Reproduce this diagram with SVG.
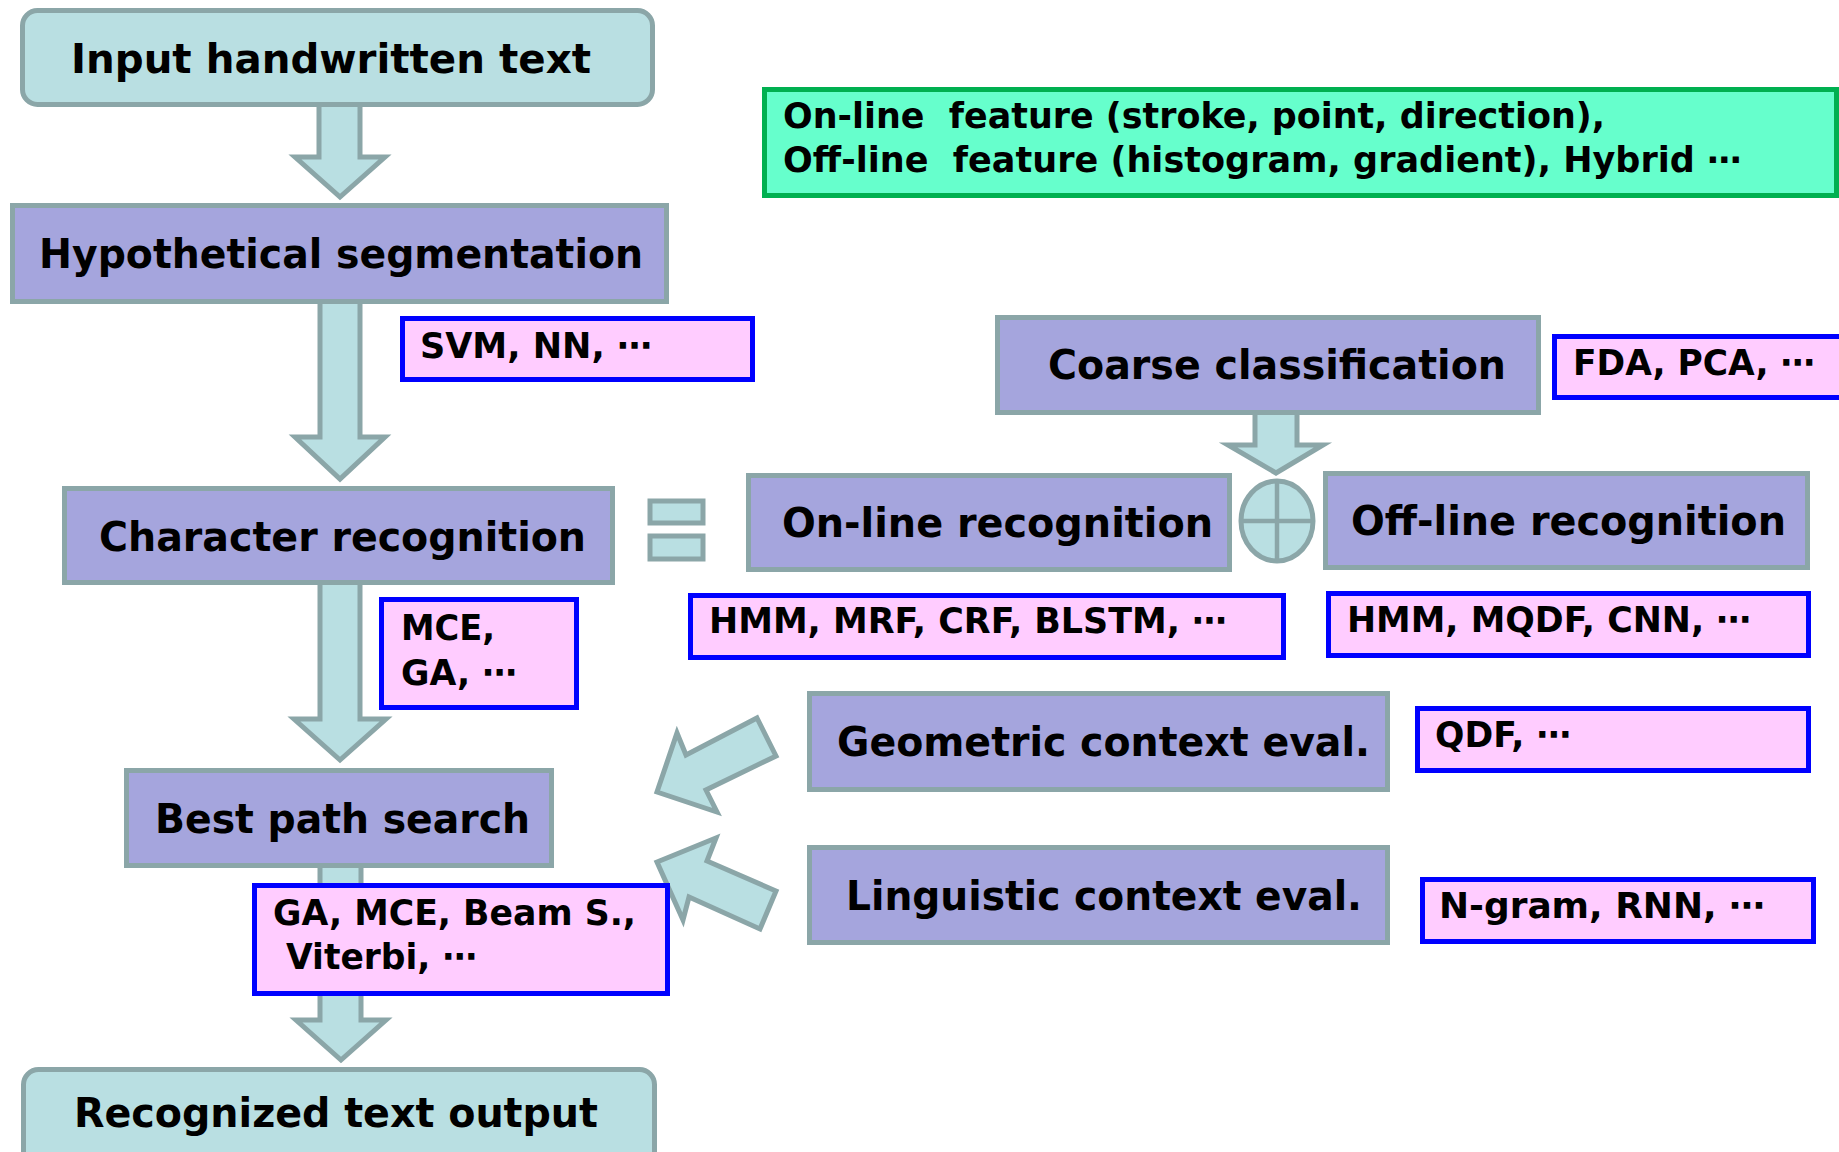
<svg xmlns="http://www.w3.org/2000/svg" width="1839" height="1152" viewBox="0 0 1839 1152">
<style>
.cy{fill:#b9dfe2;stroke:#8ba6a8;stroke-width:5}
.pu{fill:#a5a5dd;stroke:#8ba6a8;stroke-width:5}
.pk{fill:#ffccff;stroke:#0000ff;stroke-width:5}
.gr{fill:#66ffcc;stroke:#00b050;stroke-width:5}
.ar{fill:#b9dfe2;stroke:#8ba6a8;stroke-width:5;stroke-linejoin:miter}
text{font-family:"DejaVu Sans","Verdana",sans-serif;font-weight:bold;fill:#000}
.t1{font-size:40px}
.t2{font-size:36px}
.t3{font-size:35px}
</style>
<rect width="1839" height="1152" fill="#fff"/>
<g id="connectors">
<polygon class="ar" points="319,100 360,100 360,157 385,157 340,197 295,157 319,157"/>
<polygon class="ar" points="320,298 360,298 360,437 385,437 340,479 295,437 320,437"/>
<polygon class="ar" points="320,580 360,580 360,719 386,719 340,760 294,719 320,719"/>
<polygon class="ar" points="320,862 361,862 361,1020 386,1020 341,1060 296,1020 320,1020"/>
<polygon class="ar" points="1255,410 1297,410 1297,445 1323,445 1276,473 1228,445 1255,445"/>
<polygon class="ar" points="757,718 776,756 706,790 717,812 657,792 677,733 686,755"/>
<polygon class="ar" points="716,838 707,861 776,891 760,929 689,897 683,920 657,862"/>
<g id="equals">
<rect class="cy" x="650" y="501" width="53" height="22" stroke-width="4"/>
<rect class="cy" x="650" y="536" width="53" height="23" stroke-width="4"/>
</g>
<g id="oplus">
<ellipse class="cy" cx="1277" cy="521" rx="36" ry="40" stroke-width="4.5"/>
<line x1="1277" y1="481" x2="1277" y2="561" stroke="#8ba6a8" stroke-width="4.5"/>
<line x1="1241" y1="521" x2="1313" y2="521" stroke="#8ba6a8" stroke-width="4.5"/>
</g>
</g>
<g id="input">
<rect class="cy" x="22.5" y="10.5" width="630" height="94" rx="15"/>
<text class="t1" x="71" y="73" textLength="520" lengthAdjust="spacingAndGlyphs">Input handwritten text</text>
</g>
<g id="hypseg">
<rect class="pu" x="12.5" y="205.5" width="654" height="96"/>
<text class="t1" x="39" y="268" textLength="604" lengthAdjust="spacingAndGlyphs">Hypothetical segmentation</text>
</g>
<g id="svm">
<rect class="pk" x="402.5" y="318.5" width="350" height="61"/>
<text class="t2" x="420" y="358" textLength="232" lengthAdjust="spacingAndGlyphs">SVM, NN, ⋯</text>
</g>
<g id="charrec">
<rect class="pu" x="64.5" y="488.5" width="548" height="94"/>
<text class="t1" x="99" y="551" textLength="487" lengthAdjust="spacingAndGlyphs">Character recognition</text>
</g>
<g id="mce">
<rect class="pk" x="381.5" y="599.5" width="195" height="108"/>
<text class="t2" x="401" y="640" textLength="94" lengthAdjust="spacingAndGlyphs">MCE,</text>
<text class="t2" x="401" y="685" textLength="116" lengthAdjust="spacingAndGlyphs">GA, ⋯</text>
</g>
<g id="bestpath">
<rect class="pu" x="126.5" y="770.5" width="425" height="95"/>
<text class="t1" x="155" y="833" textLength="375" lengthAdjust="spacingAndGlyphs">Best path search</text>
</g>
<g id="gamce">
<rect class="pk" x="254.5" y="885.5" width="413" height="108"/>
<text class="t2" x="273" y="925" textLength="363" lengthAdjust="spacingAndGlyphs">GA, MCE, Beam S.,</text>
<text class="t2" x="286" y="969" textLength="191" lengthAdjust="spacingAndGlyphs">Viterbi, ⋯</text>
</g>
<g id="output">
<rect class="cy" x="23.5" y="1069.5" width="631" height="120" rx="15"/>
<text class="t1" x="74" y="1127" textLength="524" lengthAdjust="spacingAndGlyphs">Recognized text output</text>
</g>
<g id="features">
<rect class="gr" x="764.5" y="89.5" width="1072" height="106"/>
<text class="t3" x="783" y="128" xml:space="preserve" textLength="822" lengthAdjust="spacingAndGlyphs">On-line  feature (stroke, point, direction),</text>
<text class="t3" x="783" y="172" xml:space="preserve" textLength="959" lengthAdjust="spacingAndGlyphs">Off-line  feature (histogram, gradient), Hybrid ⋯</text>
</g>
<g id="coarse">
<rect class="pu" x="997.5" y="317.5" width="541" height="95"/>
<text class="t1" x="1048" y="379" textLength="458" lengthAdjust="spacingAndGlyphs">Coarse classification</text>
</g>
<g id="fda">
<rect class="pk" x="1554.5" y="336.5" width="300" height="61"/>
<text class="t2" x="1573" y="375" textLength="242" lengthAdjust="spacingAndGlyphs">FDA, PCA, ⋯</text>
</g>
<g id="online">
<rect class="pu" x="748.5" y="475.5" width="481" height="94"/>
<text class="t1" x="782" y="537" textLength="431" lengthAdjust="spacingAndGlyphs">On-line recognition</text>
</g>
<g id="offline">
<rect class="pu" x="1325.5" y="473.5" width="482" height="94"/>
<text class="t1" x="1351" y="535" textLength="435" lengthAdjust="spacingAndGlyphs">Off-line recognition</text>
</g>
<g id="hmm1">
<rect class="pk" x="690.5" y="595.5" width="593" height="62"/>
<text class="t2" x="709" y="633" textLength="518" lengthAdjust="spacingAndGlyphs">HMM, MRF, CRF, BLSTM, ⋯</text>
</g>
<g id="hmm2">
<rect class="pk" x="1328.5" y="593.5" width="480" height="62"/>
<text class="t2" x="1347" y="632" textLength="404" lengthAdjust="spacingAndGlyphs">HMM, MQDF, CNN, ⋯</text>
</g>
<g id="geometric">
<rect class="pu" x="809.5" y="693.5" width="578" height="96"/>
<text class="t1" x="837" y="756" textLength="533" lengthAdjust="spacingAndGlyphs">Geometric context eval.</text>
</g>
<g id="qdf">
<rect class="pk" x="1417.5" y="708.5" width="391" height="62"/>
<text class="t2" x="1435" y="747" textLength="136" lengthAdjust="spacingAndGlyphs">QDF, ⋯</text>
</g>
<g id="linguistic">
<rect class="pu" x="809.5" y="847.5" width="578" height="95"/>
<text class="t1" x="846" y="910" textLength="516" lengthAdjust="spacingAndGlyphs">Linguistic context eval.</text>
</g>
<g id="ngram">
<rect class="pk" x="1422.5" y="879.5" width="391" height="62"/>
<text class="t2" x="1439" y="918" textLength="326" lengthAdjust="spacingAndGlyphs">N-gram, RNN, ⋯</text>
</g>
</svg>
